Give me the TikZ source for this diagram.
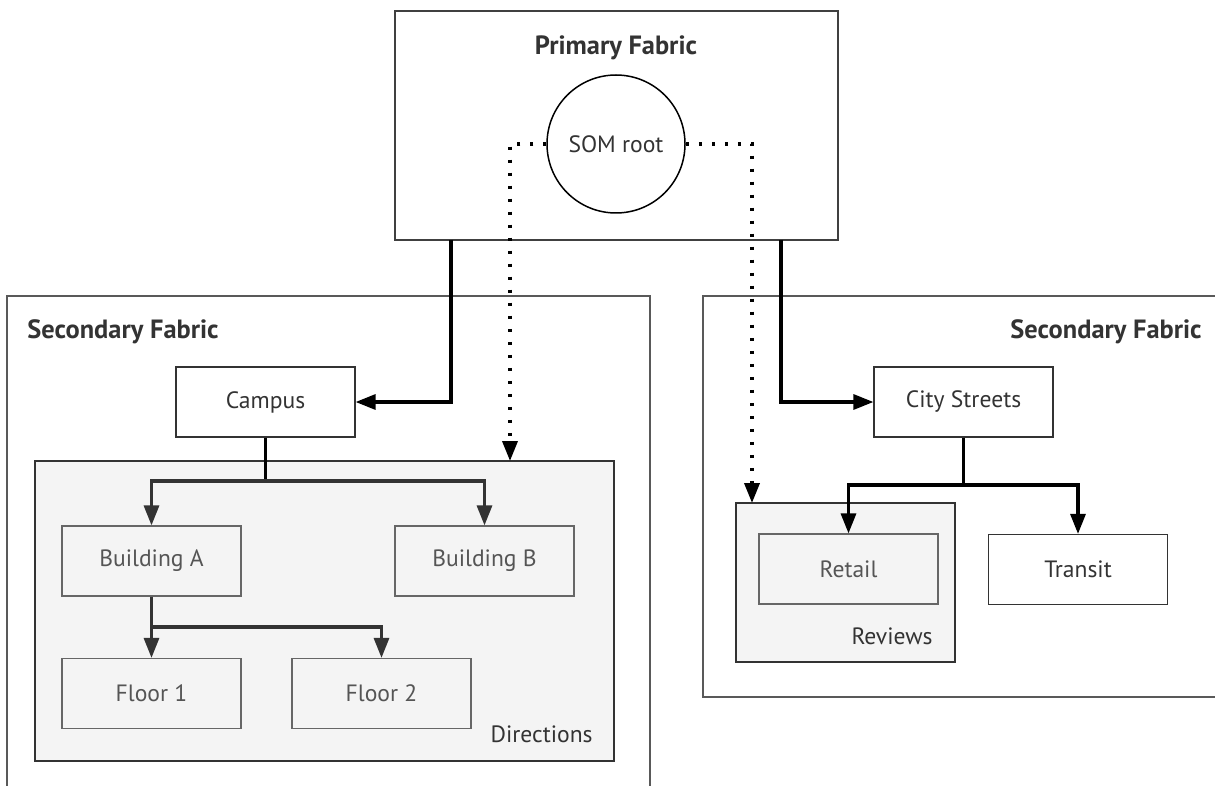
\documentclass[tikz,border=0pt]{standalone}
\usepackage{fontspec}
\setmainfont{PT Sans}
\usepackage{tikz}
\usetikzlibrary{shapes.geometric, positioning, arrows.meta, calc}

\definecolor{grpfill}{HTML}{F4F4F4}
\definecolor{ink}{HTML}{333333}
\definecolor{soft}{HTML}{555555}

\begin{document}
\begin{tikzpicture}[
    x=0.5pt, y=-0.5pt,
    fabric/.style={draw=black!75, line width=0.6pt, rectangle, inner sep=0pt},
    group/.style={draw=ink, fill=grpfill, line width=0.6pt, rectangle, inner sep=0pt},
    title/.style={font=\bfseries\fontsize{13.2}{16}\selectfont, text=ink, inner sep=0pt},
    tag/.style={font=\fontsize{11.8}{14}\selectfont, text=ink, inner sep=0pt},
    plain/.style={draw=ink, fill=white, line width=0.6pt, minimum width=89.5pt, minimum height=35pt, font=\fontsize{11.8}{14}\selectfont, text=ink},
    inner/.style={plain, fill=grpfill, draw=black!60, text=soft},
    link/.style={line width=1.6pt, -{Triangle[length=10pt, width=7.5pt]}},
    tree/.style={line width=1.6pt, draw=ink, -{Triangle[length=10pt, width=7.5pt]}},
    dots/.style={line width=1.8pt, dash pattern=on 1.8pt off 4.7pt, -{Triangle[length=10pt, width=7.5pt]}}
]
    \useasboundingbox (0,0) rectangle (1215,786);
    \clip (0,0) rectangle (1215,786);

    % ================= FABRICS =================
    \node[fabric, draw=black!65, minimum width=321.5pt, minimum height=262pt] (secL) at (328.5,558) {};
    \node[fabric, draw=black!65, minimum width=266pt, minimum height=200.5pt] (secR) at (969,496.5) {};
    \node[fabric, fill=white, minimum width=221.5pt, minimum height=114.5pt] (primary) at (616.5,125.5) {};

    \node[title] (tPrim) at (616,48) {Primary Fabric};
    \node[title, anchor=west] (tSecL) at (27,332) {Secondary Fabric};
    \node[title, anchor=east] (tSecR) at (1202,332) {Secondary Fabric};

    % ================= GROUPS =================
    \node[group, minimum width=289.5pt, minimum height=150pt] (directions) at (324.5,611) {};
    \node[group, minimum width=109.5pt, minimum height=79.5pt] (reviews) at (845.5,582.5) {};
    \node[tag, anchor=east] (tDir) at (593,734) {Directions};
    \node[tag, anchor=east] (tRev) at (933,636) {Reviews};

    % ================= NODES =================
    \node[draw=black, line width=0.75pt, circle, fill=white, minimum size=69pt, inner sep=0pt,
          font=\fontsize{11.8}{14}\selectfont, text=ink] (som) at (616,144) {SOM root};

    \node[plain] (campus) at (265.5,402) {Campus};
    \node[inner] (bldA) at (151.5,561) {Building A};
    \node[inner] (bldB) at (484.5,561) {Building B};
    \node[inner] (fl1) at (151.5,693.5) {Floor 1};
    \node[inner] (fl2) at (381.5,693.5) {Floor 2};

    \node[plain] (city) at (963.5,402) {City Streets};
    \node[inner] (retail) at (848.5,569) {Retail};
    \node[plain] (transit) at (1078,569.5) {Transit};

    % ================= CONNECTIONS =================
    \coordinate (pl) at (451,240);
    \coordinate (pr) at (781,240);
    \draw[link] (pl) |- (campus.east);
    \draw[link] (pr) |- (city.west);

    % dotted links from the root
    \coordinate (dirIn) at (510,461);
    \coordinate (revIn) at (752,503);
    \draw[dots] (som.west) -| (dirIn);
    \draw[dots] (som.east) -| (revIn);

    % Campus tree
    \coordinate (cj) at (265.5,481);
    \draw[line width=1.6pt] (campus.south) -- (cj);
    \draw[tree] (cj) -| (bldA.north);
    \draw[tree] (cj) -| (bldB.north);

    % Building A tree
    \coordinate (aj) at (151.5,627);
    \draw[tree] (bldA.south) -- (fl1.north);
    \draw[tree] (aj) -| (fl2.north);

    % City Streets tree
    \coordinate (sj) at (963.5,485);
    \draw[line width=1.6pt] (city.south) -- (sj);
    \draw[link] (sj) -| (retail.north);
    \draw[link] (sj) -| (transit.north);

\end{tikzpicture}
\end{document}
